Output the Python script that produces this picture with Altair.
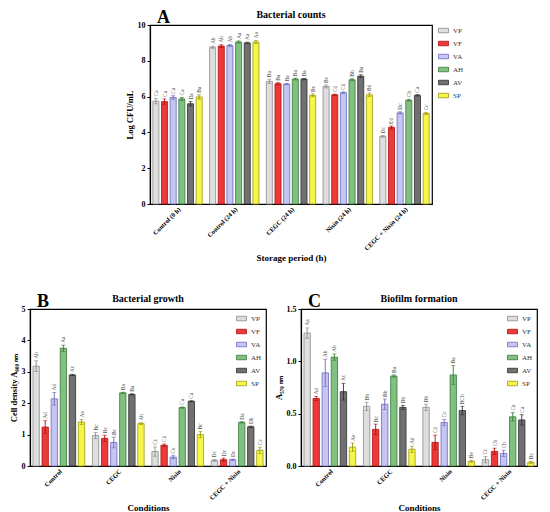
import altair as alt
import pandas as pd

SERIF = "Liberation Serif"
STRAINS = ["VP", "VF", "VA", "AH", "AV", "SP"]
FILLS = ["#dedede", "#ec3a3a", "#c6c6f5", "#80c080", "#707070", "#f6f64a"]
STROKES = ["#8a8a8a", "#b01010", "#6a6ab8", "#3a7a3a", "#2e2e2e", "#9a9a10"]

# ---- Panel A: Bacterial counts (Log CFU/mL) ----
A_GROUPS = ["Control (0 h)", "Control (24 h)", "CEGC (24 h)", "Nisin (24 h)", "CEGC + Nisin (24 h)"]
A_MEAN = [
    [5.75, 8.76, 6.85, 6.57, 3.78],
    [5.72, 8.82, 6.72, 6.10, 4.28],
    [5.95, 8.85, 6.70, 6.22, 5.09],
    [5.87, 9.05, 6.98, 6.94, 5.80],
    [5.60, 9.00, 6.98, 7.14, 6.07],
    [5.98, 9.05, 6.07, 6.10, 5.06],
]
A_ERR = [
    [0.15, 0.06, 0.12, 0.08, 0.05],
    [0.15, 0.08, 0.06, 0.04, 0.08],
    [0.10, 0.06, 0.04, 0.04, 0.06],
    [0.08, 0.06, 0.05, 0.06, 0.05],
    [0.12, 0.04, 0.04, 0.08, 0.04],
    [0.12, 0.08, 0.08, 0.10, 0.06],
]
A_LAB = [
    ["Ca", "Ab", "Ba", "Bc", "Dc"],
    ["Ca", "Ab", "Ba", "Cd", "Ed"],
    ["Ca", "Ab", "Ba", "Cd", "Dc"],
    ["Ca", "Aa", "Ba", "Bb", "Cb"],
    ["Da", "Aa", "Ba", "Ba", "Ca"],
    ["Ba", "Aa", "Bc", "Bd", "Cc"],
]
A_TICKS = [0, 2, 4, 6, 8, 10]

# ---- Panel B: Bacterial growth ----
BC_GROUPS = ["Control", "CEGC", "Nisin", "CEGC + Nisin"]
B_MEAN = [
    [3.18, 0.97, 0.46, 0.18],
    [1.24, 0.88, 0.66, 0.20],
    [2.14, 0.75, 0.28, 0.20],
    [3.75, 2.33, 1.86, 1.39],
    [2.90, 2.28, 2.06, 1.25],
    [1.40, 1.35, 1.00, 0.50],
]
B_ERR = [
    [0.17, 0.10, 0.15, 0.03],
    [0.20, 0.10, 0.04, 0.05],
    [0.20, 0.17, 0.05, 0.02],
    [0.10, 0.02, 0.02, 0.02],
    [0.02, 0.02, 0.02, 0.02],
    [0.08, 0.03, 0.10, 0.10],
]
B_LAB = [
    ["Ab", "Bc", "Cc", "Dc"],
    ["Ad", "Bc", "Cd", "Dc"],
    ["Ad", "Bc", "Ce", "Dc"],
    ["Aa", "Ba", "Ca", "Da"],
    ["Ac", "Ba", "Ca", "Db"],
    ["Ae", "Ab", "Bc", "Cc"],
]
B_TICKS = [0, 1, 2, 3, 4, 5]

# ---- Panel C: Biofilm formation ----
C_MEAN = [
    [1.27, 0.57, 0.56, 0.06],
    [0.645, 0.35, 0.225, 0.14],
    [0.89, 0.59, 0.415, 0.12],
    [1.04, 0.86, 0.87, 0.47],
    [0.71, 0.56, 0.53, 0.44],
    [0.18, 0.16, 0.045, 0.035],
]
C_ERR = [
    [0.05, 0.04, 0.03, 0.03],
    [0.02, 0.05, 0.07, 0.03],
    [0.13, 0.05, 0.03, 0.03],
    [0.03, 0.01, 0.09, 0.04],
    [0.08, 0.02, 0.04, 0.05],
    [0.04, 0.03, 0.01, 0.01],
]
C_LAB = [
    ["Aa", "Bb", "Bb", "Cc"],
    ["Ad", "Bc", "Cd", "Cb"],
    ["Ab", "Bb", "Cc", "Cb"],
    ["Ab", "Ba", "Ba", "Ca"],
    ["Ac", "Bb", "BCb", "Ca"],
    ["Ae", "Ad", "Be", "Bc"],
]
C_TICKS = [0, 0.5, 1.0, 1.5]

LEG_SYMBOL = "M-1,-0.45L1,-0.45L1,0.45L-1,0.45Z"


def make_df(groups, mean, err, lab):
    rows = []
    for si, s in enumerate(STRAINS):
        for gi, g in enumerate(groups):
            m = mean[si][gi]
            e = err[si][gi]
            rows.append(dict(group=g, strain=s, mean=m, lo=m - e, hi=m + e, label=lab[si][gi]))
    return pd.DataFrame(rows)


def panel(groups, mean, err, lab, yticks, yfmt, ytitle, xtitle, title, letter,
          width, height, legend, xlab_fs):
    df = make_df(groups, mean, err, lab)
    xenc = alt.X("group:N", sort=groups, title=xtitle,
                 scale=alt.Scale(paddingInner=0.13, paddingOuter=0.05),
                 axis=alt.Axis(labelAngle=-45, labelFontSize=xlab_fs, ticks=False,
                               titleFontSize=9, labelPadding=2, titlePadding=2))
    xo = alt.XOffset("strain:N", sort=STRAINS, scale=alt.Scale(paddingInner=0.3))
    yscale = alt.Scale(domain=[yticks[0], yticks[-1]], nice=False)
    yax = alt.Axis(values=yticks, format=yfmt, title=ytitle, labelFontSize=8,
                   titleFontSize=8.5, tickSize=3, labelPadding=2, titlePadding=3)
    fill = alt.Fill("strain:N", sort=STRAINS, scale=alt.Scale(domain=STRAINS, range=FILLS), legend=legend)
    stroke = alt.Stroke("strain:N", sort=STRAINS, scale=alt.Scale(domain=STRAINS, range=STROKES), legend=legend)
    base = alt.Chart(df).encode(x=xenc, xOffset=xo)
    bars = base.mark_bar(strokeWidth=0.8).encode(
        y=alt.Y("mean:Q", scale=yscale, axis=yax), fill=fill, stroke=stroke)
    errs = base.mark_rule(strokeWidth=0.9).encode(
        y=alt.Y("lo:Q", scale=yscale, axis=yax), y2="hi:Q", stroke=stroke)
    capcol = alt.Color("strain:N", sort=STRAINS, scale=alt.Scale(domain=STRAINS, range=STROKES), legend=None)
    cap_hi = base.mark_tick(thickness=0.9, size=4).encode(
        y=alt.Y("hi:Q", scale=yscale, axis=yax), color=capcol)
    cap_lo = base.mark_tick(thickness=0.9, size=4).encode(
        y=alt.Y("lo:Q", scale=yscale, axis=yax), color=capcol)
    texts = base.mark_text(angle=270, align="left", baseline="middle", dx=2,
                           font=SERIF, fontSize=5.5, color="#555555").encode(
        y=alt.Y("hi:Q", scale=yscale, axis=yax), text="label:N")
    tdf = pd.DataFrame({"t": [letter], "n": [title]})
    let = alt.Chart(tdf).mark_text(font=SERIF, fontSize=18, fontWeight="bold",
                                   align="left", baseline="alphabetic").encode(
        text="t:N", x=alt.value(7), y=alt.value(-2))
    name = alt.Chart(tdf).mark_text(font=SERIF, fontSize=10, fontWeight="bold",
                                    align="center", baseline="alphabetic").encode(
        text="n:N", x=alt.value(width / 2), y=alt.value(-7))
    return alt.layer(bars, errs, cap_hi, cap_lo, texts, let, name).properties(width=width, height=height)


legA = alt.Legend(title=None, orient="right", offset=6)
legBC = alt.Legend(title=None, orient="top-right", offset=4)

pA = panel(A_GROUPS, A_MEAN, A_ERR, A_LAB, A_TICKS, "d", "Log CFU/mL", "Storage period (h)",
           "Bacterial counts", "A", 282, 179, legA, 6.5)
pB = panel(BC_GROUPS, B_MEAN, B_ERR, B_LAB, B_TICKS, "d", "Cell density A₆₀₀ ₙₘ", "Conditions",
           "Bacterial growth", "B", 236, 157, legBC, 6.5)
pC = panel(BC_GROUPS, C_MEAN, C_ERR, C_LAB, C_TICKS, ".1f", "A₅₇₀ ₙₘ", "Conditions",
           "Biofilm formation", "C", 236, 157, legBC, 6.5)

spacer = alt.Chart(pd.DataFrame({"t": [""]})).mark_text().encode(text="t:N").properties(
    width=94, height=10, view=alt.ViewBackground(stroke=None))

RES = dict(x="independent", y="independent", xOffset="independent",
           fill="independent", stroke="independent", color="independent")

top = alt.hconcat(spacer, pA, spacing=0).resolve_scale(**RES)
bottom = alt.hconcat(pB, pC, spacing=6).resolve_scale(**RES)
chart = alt.vconcat(top, bottom, spacing=28).resolve_scale(**RES).properties(
    padding={"left": 0, "top": 0, "right": 0, "bottom": 0}
).configure_axis(
    labelFont=SERIF, labelFontWeight="bold", titleFont=SERIF, titleFontWeight="bold",
    domainColor="black", tickColor="black", labelColor="black", titleColor="black",
    grid=False, domainWidth=1.2, tickWidth=1,
).configure_view(stroke="black", strokeWidth=1.2).configure_legend(
    labelFont=SERIF, labelFontSize=7, symbolType=LEG_SYMBOL, symbolSize=100,
    symbolStrokeWidth=0.8, rowPadding=3, labelColor="#333333",
)

chart.save("out.html", embed_options={"renderer": "svg", "actions": False})
